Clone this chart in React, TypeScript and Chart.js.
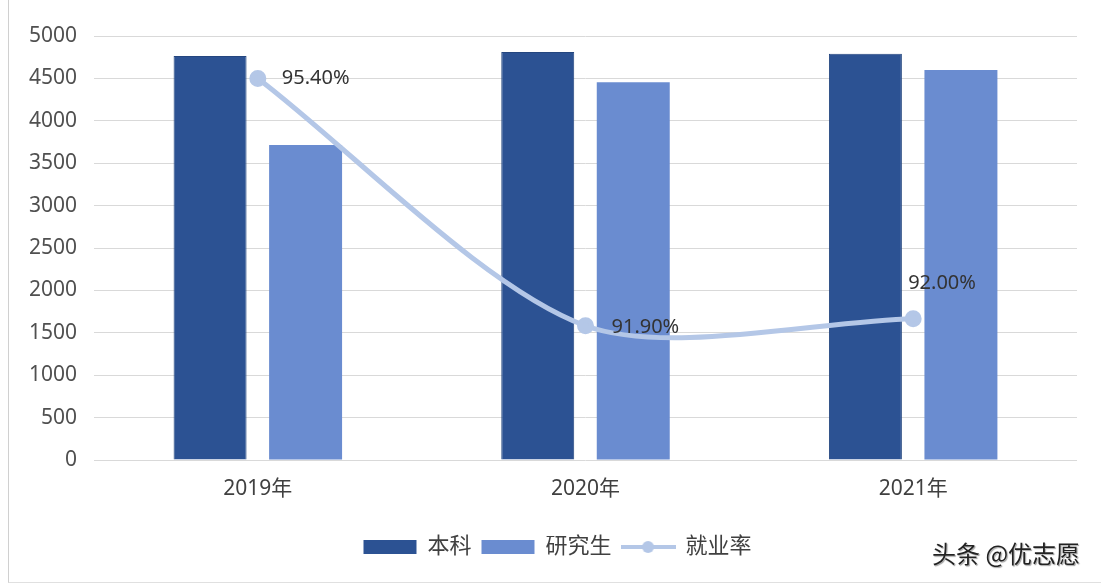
import React, { useEffect, useRef } from "react";
import { Chart, registerables } from "chart.js";

Chart.register(...registerables);

const categories = ["2019年", "2020年", "2021年"];
const benke = [4765, 4810, 4790];
const yanjiusheng = [3715, 4455, 4600];
const jiuyelv = [95.4, 91.9, 92.0];
const rateLabels = ["95.40%", "91.90%", "92.00%"];
const yTicks = [0, 500, 1000, 1500, 2000, 2500, 3000, 3500, 4000, 4500, 5000];

const FONT = '"Noto Sans", "Noto Sans CJK SC", sans-serif';
const DARK = "#2C5293";
const LIGHT = "#6A8CD0";
const LINE = "#B4C7E7";
const TEXT = "#505050";

function makeLineIcon(): HTMLCanvasElement {
  const c = document.createElement("canvas");
  c.width = 55;
  c.height = 14;
  const ctx = c.getContext("2d")!;
  ctx.strokeStyle = LINE;
  ctx.lineWidth = 4;
  ctx.beginPath();
  ctx.moveTo(0, 7);
  ctx.lineTo(55, 7);
  ctx.stroke();
  ctx.fillStyle = LINE;
  ctx.beginPath();
  ctx.arc(27.5, 7, 6, 0, Math.PI * 2);
  ctx.fill();
  return c;
}

const labelPlugin = {
  id: "rateLabels",
  afterLayout(chart: any) {
    if (chart.legend) chart.legend.left += 38;
  },
  afterDatasetsDraw(chart: any) {
    const meta = chart.getDatasetMeta(2);
    const ctx = chart.ctx;
    ctx.save();
    ctx.font = `20px ${FONT}`;
    ctx.fillStyle = "#333333";
    ctx.textBaseline = "middle";
    ctx.textAlign = "left";
    const offs = [
      [24, 0],
      [26, 2],
      [-5, -35],
    ];
    meta.data.forEach((p: any, i: number) => {
      ctx.fillText(rateLabels[i], p.x + offs[i][0], p.y + offs[i][1]);
    });
    ctx.restore();
  },
};

export default function App() {
  const ref = useRef<HTMLCanvasElement>(null);
  useEffect(() => {
    const icon = makeLineIcon();
    const chart = new Chart(ref.current!, {
      type: "bar",
      data: {
        labels: categories,
        datasets: [
          {
            type: "bar",
            label: "本科",
            data: benke,
            backgroundColor: DARK,
            borderColor: "#24467F",
            borderWidth: 1,
            yAxisID: "y",
            order: 2,
            barPercentage: 0.764,
            categoryPercentage: 0.583,
          },
          {
            type: "bar",
            label: "研究生",
            data: yanjiusheng,
            backgroundColor: LIGHT,
            yAxisID: "y",
            order: 2,
            barPercentage: 0.764,
            categoryPercentage: 0.583,
          },
          {
            type: "line",
            label: "就业率",
            data: jiuyelv,
            borderColor: LINE,
            backgroundColor: LINE,
            borderWidth: 5,
            pointRadius: 6,
            pointBackgroundColor: LINE,
            pointBorderColor: LINE,
            tension: 0.28,
            yAxisID: "y2",
            order: 1,
          } as any,
        ],
      },
      options: {
        animation: false,
        responsive: true,
        maintainAspectRatio: false,
        layout: { padding: { left: 0, right: 31, top: 36, bottom: 20 } },
        plugins: {
          tooltip: { enabled: false },
          legend: {
            position: "bottom",
            labels: {
              usePointStyle: true,
              pointStyleWidth: 53,
              boxHeight: 14,
              padding: 10,
              color: TEXT,
              font: { family: FONT, size: 22 },
              generateLabels: (ch: any) =>
                ch.data.datasets.map((ds: any, i: number) => ({
                  text: ds.label,
                  fillStyle: ds.backgroundColor,
                  strokeStyle: ds.backgroundColor,
                  lineWidth: 0,
                  pointStyle: i === 2 ? icon : "rect",
                  datasetIndex: i,
                  hidden: false,
                  fontColor: "#404040",
                })),
            },
          },
        },
        scales: {
          x: {
            grid: { display: false, drawTicks: false },
            border: { display: false },
            ticks: {
              color: "#404040",
              font: { family: FONT, size: 21 },
              padding: 16,
            },
            afterFit: (s: any) => {
              s.height = 66;
            },
          },
          y: {
            min: 0,
            max: 5000,
            afterBuildTicks: (s: any) => {
              s.ticks = yTicks.map((v) => ({ value: v }));
            },
            grid: { color: "#D9D9D9", drawTicks: false },
            border: { display: false },
            ticks: {
              color: TEXT,
              font: { family: FONT, size: 21 },
              padding: 17,
              callback: (v: any) => String(v),
            },
            afterFit: (s: any) => {
              s.width = 94;
            },
          },
          y2: {
            display: false,
            min: 90,
            max: 96,
            position: "right",
          },
        },
      },
      plugins: [labelPlugin],
    });
    return () => chart.destroy();
  }, []);
  return (
    <div
      style={{
        position: "absolute",
        left: 0,
        top: 0,
        width: 1108,
        height: 588,
        background: "#fff",
      }}
    >
      <div
        style={{
          position: "absolute",
          left: 8,
          top: 0,
          width: 1092,
          height: 582,
          borderLeft: "1px solid #D0D0D0",
          borderBottom: "1px solid #E0E0E0",
        }}
      />
      <canvas ref={ref} />
      <div
        style={{
          position: "absolute",
          left: 932,
          top: 535,
          fontFamily: '"Noto Sans CJK SC", sans-serif',
          fontSize: 24,
          color: "#222",
          textShadow: "0 0 2px #fff, 1px 1px 1px #888",
          whiteSpace: "nowrap",
        }}
      >
        头条 @优志愿
      </div>
    </div>
  );
}
